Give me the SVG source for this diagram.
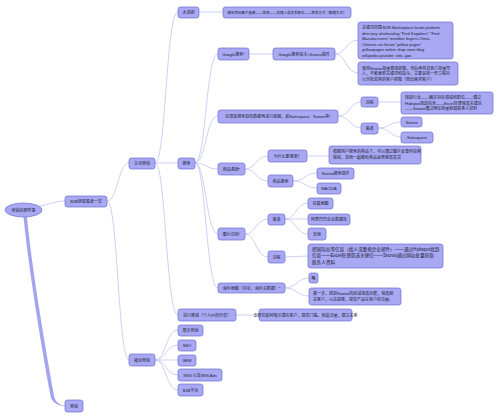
<svg xmlns="http://www.w3.org/2000/svg" width="500" height="420" viewBox="0 0 500 420">
<style>
.n{fill:#a9a9f3;stroke:#6a6ad0;stroke-width:0.7}
.t{font-family:"Liberation Sans","Noto Sans CJK SC",sans-serif;font-size:4px;fill:#1a1a33}
.c{text-anchor:middle;dominant-baseline:central}
.e{fill:none;stroke:#c3c3f3;stroke-width:0.8}
</style>
<rect width="500" height="420" fill="#ffffff"/>
<g id="connectors">
<path d="M23.5 217 C28 262 40 340 51 398 Q55 406 65 406 L65 405.6 Q57 405 54.5 398 C44 340 31 262 27 217 Z" fill="#a3a3f0"/>
<path class="e" d="M40 206 C52 204 55 201 65 201"/>
<path class="e" d="M107 201 C118 201 118 163 129 163"/>
<path class="e" d="M107 201 C118 201 118 360 129 360"/>
<path class="e" d="M155 163 C166 163 166 12 178 12"/>
<path class="e" d="M155 163 L178 163"/>
<path class="e" d="M155 163 C166 163 166 315 178 315"/>
<path class="e" d="M199 12 L223 12"/>
<path class="e" d="M195 163 C206 163 206 54 218 54"/>
<path class="e" d="M195 163 C206 163 206 116 218 116"/>
<path class="e" d="M195 163 C206 163 206 169 218 169"/>
<path class="e" d="M195 163 C206 163 206 234 218 234"/>
<path class="e" d="M195 163 C206 163 206 288 218 288"/>
<path class="e" d="M249 54 L273 54"/>
<path class="e" d="M335 54 C346 54 346 40 358 40"/>
<path class="e" d="M335 54 C346 54 346 73 358 73"/>
<path class="e" d="M338 116 C350 116 350 102 361 102"/>
<path class="e" d="M338 116 C350 116 350 128 361 128"/>
<path class="e" d="M378 102 L401 102"/>
<path class="e" d="M378 128 C390 128 390 122 401 122"/>
<path class="e" d="M378 128 C390 128 390 137 401 137"/>
<path class="e" d="M245 169 C256 169 256 156 268 156"/>
<path class="e" d="M245 169 C256 169 256 181 268 181"/>
<path class="e" d="M307 156 L329 156"/>
<path class="e" d="M293 181 C305 181 305 173 317 173"/>
<path class="e" d="M293 181 C305 181 305 188 317 188"/>
<path class="e" d="M245 234 C256 234 256 219 268 219"/>
<path class="e" d="M245 234 C256 234 256 257 268 257"/>
<path class="e" d="M285 219 C296 219 296 203 308 203"/>
<path class="e" d="M285 219 L308 219"/>
<path class="e" d="M285 219 C296 219 296 234 308 234"/>
<path class="e" d="M285 257 L308 256"/>
<path class="e" d="M285 288 C297 288 297 278 309 278"/>
<path class="e" d="M285 288 C297 288 297 296 309 296"/>
<path class="e" d="M236 315 L259 315"/>
<path class="e" d="M155 360 C166 360 166 330 178 330"/>
<path class="e" d="M155 360 C166 360 166 345 178 345"/>
<path class="e" d="M155 360 L178 360"/>
<path class="e" d="M155 360 C166 360 166 375 178 375"/>
<path class="e" d="M155 360 C166 360 166 390 178 390"/>
</g>
<g id="root"><ellipse class="n" cx="23.5" cy="210" rx="18.5" ry="7"/><text class="t c" x="23.5" y="210">营销的那些事</text></g>
<g id="b2b"><rect class="n" x="65" y="196" width="42" height="11" rx="2.5"/><text class="t c" x="86" y="201.5">B2B获取渠道一览</text></g>
<g id="yingxiao"><rect class="n" x="65" y="400" width="18" height="12" rx="2.5"/><text class="t c" x="74" y="406">营销</text></g>
<g id="zhudong"><rect class="n" x="129" y="158" width="26" height="11" rx="2.5"/><text class="t c" x="142" y="163.5">主动营销</text></g>
<g id="beidong"><rect class="n" x="129" y="354" width="26" height="12" rx="2.5"/><text class="t c" x="142" y="360">被动营销</text></g>
<g id="dajintuan"><rect class="n" x="178" y="7" width="21" height="11" rx="2.5"/><text class="t c" x="188.5" y="12.5">大进团</text></g>
<g id="huaxiang"><rect class="n" x="223" y="7" width="128" height="11" rx="2.5"/><text class="t c" x="287" y="12.5" style="font-size:3.5px">确定目标客户画像——亚特——关键人或关系职位——联系方式（邮箱为主）</text></g>
<g id="sousuo"><rect class="n" x="178" y="158" width="17" height="11" rx="2.5"/><text class="t c" x="186.5" y="163.5">搜索</text></g>
<g id="google"><rect class="n" x="218" y="48" width="31" height="12" rx="2.5"/><text class="t c" x="233.5" y="54">Google搜索*</text></g>
<g id="zhiling"><rect class="n" x="273" y="48" width="62" height="12" rx="2.5"/><text class="t c" x="304" y="54">Google搜索指令+Snovio插件</text></g>
<g id="keywords"><rect class="n" x="358" y="22" width="95" height="37" rx="2.5"/><text class="t" x="362"><tspan x="362" y="29">关键词范围:B2B Marketplace leads platform</tspan><tspan x="362" y="34.5">directory wholesaling "Find Suppliers" "Find</tspan><tspan x="362" y="40">Manufacturers" member buyers China</tspan><tspan x="362" y="45.5">Chinese uni forum "yellow pages"</tspan><tspan x="362" y="51">yellowpages online shop store blog</tspan><tspan x="362" y="56.5">wikipedia youtube .edu .gov</tspan></text></g>
<g id="snovbatch"><rect class="n" x="358" y="62" width="100" height="23" rx="2.5"/><text class="t"><tspan x="362" y="69.5">使用Snovio批量查找邮箱，然后再将其客户批量导</tspan><tspan x="362" y="75">入，不断更新关键词和指令，主要是找一些工程目</tspan><tspan x="362" y="80.5">公司批发商的客户邮箱（倒出需求客户）</tspan></text></g>
<g id="linkedin"><rect class="n" x="218" y="110" width="120" height="13" rx="2.5"/><text class="t c" x="278" y="116.5">在领英搜索到的数据再进行挖掘，如Salesquest、Snovio等*</text></g>
<g id="liucheng1"><rect class="n" x="361" y="97" width="17" height="10" rx="2.5"/><text class="t c" x="369.5" y="102">流程</text></g>
<g id="flow1"><rect class="n" x="401" y="92" width="92" height="22" rx="2.5"/><text class="t"><tspan x="405" y="99">找到行业——确定目标领域和职位——通过</tspan><tspan x="405" y="104.5">Hubspot找到信息——Excel处理筛选关键信</tspan><tspan x="405" y="110">——Snovio通过网址批量获取联系人资料</tspan></text></g>
<g id="qudao1"><rect class="n" x="361" y="123" width="17" height="11" rx="2.5"/><text class="t c" x="369.5" y="128.5">渠道</text></g>
<g id="snovio"><rect class="n" x="401" y="117" width="21" height="10" rx="2.5"/><text class="t c" x="411.5" y="122">Snovio</text></g>
<g id="salesquest"><rect class="n" x="401" y="132" width="32" height="11" rx="2.5"/><text class="t c" x="417" y="137.5">Salesquest</text></g>
<g id="suyuan"><rect class="n" x="218" y="163" width="27" height="12" rx="2.5"/><text class="t c" x="231.5" y="169">商品溯源*</text></g>
<g id="why"><rect class="n" x="268" y="150" width="39" height="12" rx="2.5"/><text class="t c" x="287.5" y="156">为什么要溯源？</text></g>
<g id="whybox"><rect class="n" x="329" y="146" width="92" height="18" rx="2.5"/><text class="t"><tspan x="333" y="153">根据用户搜索的商品下，可以通过图片反查供应商</tspan><tspan x="333" y="159">链接，进而一起都有商品是否容易发货</tspan></text></g>
<g id="spsousuo"><rect class="n" x="268" y="175" width="25" height="12" rx="2.5"/><text class="t c" x="280.5" y="181">商品搜索</text></g>
<g id="snovplugin"><rect class="n" x="317" y="168" width="37" height="11" rx="2.5"/><text class="t c" x="335.5" y="173.5">Snovio搜索插件</text></g>
<g id="macdia"><rect class="n" x="317" y="183" width="24" height="11" rx="2.5"/><text class="t c" x="329" y="188.5">MACDIA</text></g>
<g id="tupian"><rect class="n" x="218" y="228" width="27" height="12" rx="2.5"/><text class="t c" x="231.5" y="234">图片识别*</text></g>
<g id="qudao2"><rect class="n" x="268" y="214" width="17" height="11" rx="2.5"/><text class="t c" x="276.5" y="219.5">渠道</text></g>
<g id="guge"><rect class="n" x="308" y="198" width="25" height="11" rx="2.5"/><text class="t c" x="320.5" y="203.5">谷歌地图</text></g>
<g id="alibaba"><rect class="n" x="308" y="214" width="42" height="11" rx="2.5"/><text class="t c" x="329" y="219.5">阿里巴巴企业数据库</text></g>
<g id="qita"><rect class="n" x="308" y="228" width="18" height="12" rx="2.5"/><text class="t c" x="317" y="234">其他</text></g>
<g id="liucheng2"><rect class="n" x="268" y="251" width="17" height="12" rx="2.5"/><text class="t c" x="276.5" y="257">流程</text></g>
<g id="flow2"><rect class="n" x="308" y="244" width="135" height="24" rx="2.5"/><text class="t" style="font-size:4.6px"><tspan x="312" y="250.5">把国际站等信息（找人或重视企业邮件）——通过Hubspot找到</tspan><tspan x="312" y="257">信息——Excel处理筛选关键信——Snovio通过网址批量获取</tspan><tspan x="312" y="263.5">联系人资料</tspan></text></g>
<g id="haiwai"><rect class="n" x="218" y="283" width="67" height="10" rx="2.5"/><text class="t c" x="251.5" y="288">海外地图（评论、海外买数据）*</text></g>
<g id="lue"><rect class="n" x="309" y="273" width="9" height="10" rx="2"/><text class="t c" x="313.5" y="278">略</text></g>
<g id="haiwaibox"><rect class="n" x="309" y="288" width="92" height="17" rx="2.5"/><text class="t"><tspan x="313" y="295">第一步，找到Snovio的区域筛选功能，筛选相</tspan><tspan x="313" y="301">关客户，以达到推，提高产品在客户的流量。</tspan></text></g>
<g id="tuixiao"><rect class="n" x="178" y="309" width="58" height="12" rx="2.5"/><text class="t c" x="207" y="315">进行推销（个人IP的分享）</text></g>
<g id="tuixiaobox"><rect class="n" x="259" y="309" width="93" height="12" rx="2.5"/><text class="t c" x="305.5" y="315">去研究如何吸引潜在客户，提高门槛，创造流量，建立关系</text></g>
<g id="zhanhui"><rect class="n" x="178" y="325" width="25" height="11" rx="2.5"/><text class="t c" x="190.5" y="330.5">展会营销</text></g>
<g id="seo"><rect class="n" x="178" y="340" width="18" height="11" rx="2.5"/><text class="t c" x="187" y="345.5">SEO</text></g>
<g id="sem"><rect class="n" x="178" y="355" width="18" height="11" rx="2.5"/><text class="t c" x="187" y="360.5">SEM</text></g>
<g id="sns"><rect class="n" x="178" y="369" width="44" height="12" rx="2.5"/><text class="t c" x="200" y="375">SNS 以及SNS Ads</text></g>
<g id="b2bpt"><rect class="n" x="178" y="384" width="25" height="12" rx="2.5"/><text class="t c" x="190.5" y="390">B2B平台</text></g>
</svg>
